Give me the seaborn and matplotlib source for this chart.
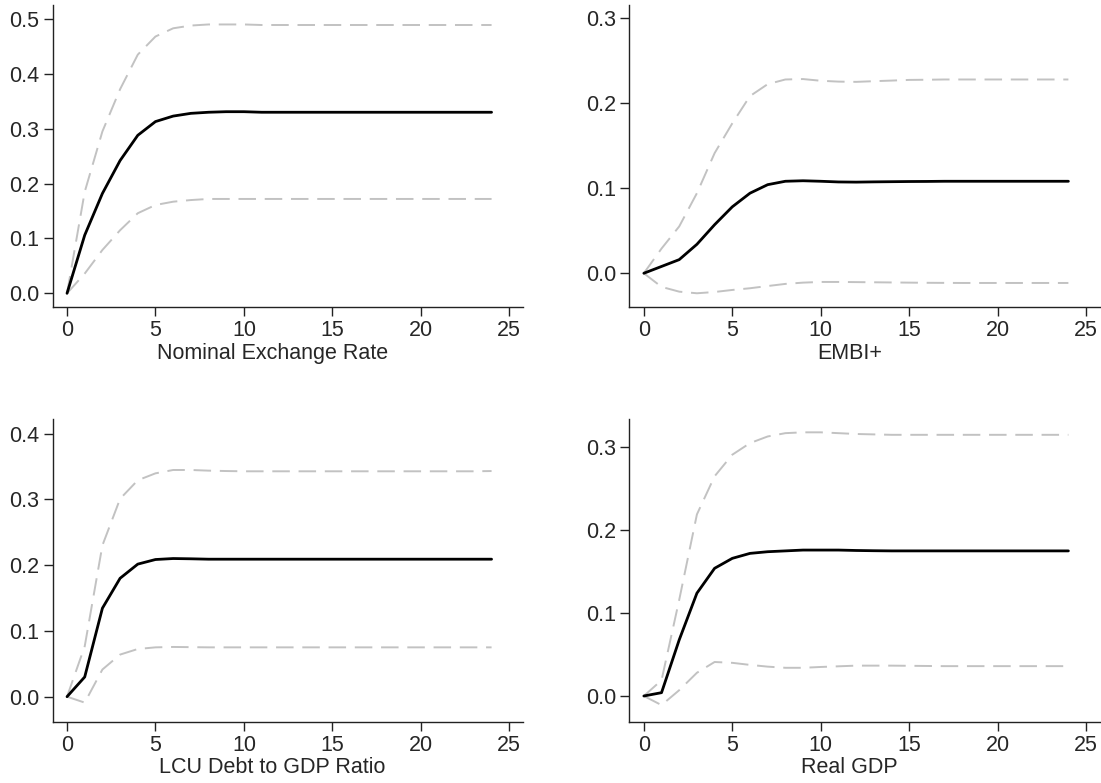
import numpy as np
import pandas as pd
import matplotlib
matplotlib.use("Agg")
import matplotlib.pyplot as plt
from matplotlib.ticker import FormatStrFormatter
import seaborn as sns

horizon = list(range(25))

titles = ['Nominal Exchange Rate', 'EMBI+', 'LCU Debt to GDP Ratio', 'Real GDP']

# impulse responses (point estimate and bands)
ner_irf = [0, 0.106, 0.182, 0.242, 0.288, 0.313, 0.323, 0.328, 0.330, 0.331, 0.331, 0.330, 0.330,
           0.330, 0.330, 0.330, 0.330, 0.330, 0.330, 0.330, 0.330, 0.330, 0.330, 0.330, 0.330]
ner_up = [0, 0.185, 0.295, 0.372, 0.435, 0.468, 0.483, 0.488, 0.490, 0.490, 0.490, 0.489, 0.489,
          0.489, 0.489, 0.489, 0.489, 0.489, 0.489, 0.489, 0.489, 0.489, 0.489, 0.489, 0.489]
ner_lo = [0, 0.036, 0.079, 0.115, 0.146, 0.161, 0.167, 0.170, 0.172, 0.172, 0.172, 0.172, 0.172,
          0.172, 0.172, 0.172, 0.172, 0.172, 0.172, 0.172, 0.172, 0.172, 0.172, 0.172, 0.172]

embi_irf = [0, 0.008, 0.016, 0.034, 0.057, 0.078, 0.094, 0.104, 0.108, 0.1086, 0.108, 0.1072, 0.107,
            0.1073, 0.1075, 0.1077, 0.1078, 0.108, 0.108, 0.108, 0.108, 0.108, 0.108, 0.108, 0.108]
embi_up = [0, 0.029, 0.055, 0.094, 0.141, 0.176, 0.208, 0.222, 0.2275, 0.228, 0.226, 0.225, 0.2247,
           0.2255, 0.2262, 0.227, 0.2272, 0.2275, 0.2275, 0.2275, 0.2275, 0.2275, 0.2275, 0.2275, 0.2275]
embi_lo = [0, -0.016, -0.0216, -0.0235, -0.022, -0.0196, -0.0176, -0.015, -0.0125, -0.011, -0.0102, -0.0102, -0.0104,
           -0.0106, -0.0108, -0.011, -0.0112, -0.0113, -0.0114, -0.0114, -0.0114, -0.0114, -0.0114, -0.0114, -0.0114]

lcu_irf = [0, 0.030, 0.1345, 0.180, 0.2015, 0.2085, 0.210, 0.2096, 0.209, 0.209, 0.209, 0.209, 0.209,
           0.209, 0.209, 0.209, 0.209, 0.209, 0.209, 0.209, 0.209, 0.209, 0.209, 0.209, 0.209]
lcu_up = [0, 0.0766, 0.230, 0.3008, 0.329, 0.3395, 0.3446, 0.3446, 0.3436, 0.343, 0.3426, 0.3426, 0.3426,
          0.3426, 0.3426, 0.3426, 0.3426, 0.3426, 0.3426, 0.3426, 0.3426, 0.3426, 0.3426, 0.3426, 0.343]
lcu_lo = [0, -0.009, 0.0413, 0.064, 0.0725, 0.075, 0.0756, 0.0753, 0.075, 0.075, 0.075, 0.075, 0.075,
          0.075, 0.075, 0.075, 0.075, 0.075, 0.075, 0.075, 0.075, 0.075, 0.075, 0.075, 0.075]

gdp_irf = [0, 0.004, 0.0677, 0.124, 0.154, 0.166, 0.172, 0.174, 0.175, 0.176, 0.176, 0.176, 0.1755,
           0.1752, 0.175, 0.175, 0.175, 0.175, 0.175, 0.175, 0.175, 0.175, 0.175, 0.175, 0.175]
gdp_up = [0, 0.019, 0.116, 0.219, 0.265, 0.291, 0.305, 0.313, 0.317, 0.318, 0.318, 0.317, 0.316,
          0.3155, 0.315, 0.315, 0.315, 0.315, 0.315, 0.315, 0.315, 0.315, 0.315, 0.315, 0.315]
gdp_lo = [0, -0.011, 0.007, 0.028, 0.041, 0.040, 0.0375, 0.0354, 0.034, 0.034, 0.035, 0.0358, 0.0366,
          0.0366, 0.0366, 0.0364, 0.0362, 0.036, 0.036, 0.036, 0.036, 0.036, 0.036, 0.036, 0.036]

panels = [
    (ner_irf, ner_up, ner_lo, (-0.0255, 0.526), [0, 0.1, 0.2, 0.3, 0.4, 0.5]),
    (embi_irf, embi_up, embi_lo, (-0.04, 0.3153), [0, 0.1, 0.2, 0.3]),
    (lcu_irf, lcu_up, lcu_lo, (-0.038, 0.422), [0, 0.1, 0.2, 0.3, 0.4]),
    (gdp_irf, gdp_up, gdp_lo, (-0.031, 0.334), [0, 0.1, 0.2, 0.3]),
]

sns.set_style("ticks")
plt.rcParams['font.family'] = ['Liberation Sans', 'DejaVu Sans']

fig = plt.figure(figsize=(11.01, 7.83), dpi=100)
boxes = [(0.0477, 0.6075), (0.5716, 0.6075), (0.0477, 0.0783), (0.5716, 0.0783)]

for (irf, up, lo, ylim, yt), title, (x0, y0) in zip(panels, titles, boxes):
    ax = fig.add_axes([x0, y0, 0.4277, 0.3865])
    df = pd.DataFrame({'h': horizon, 'irf': irf, 'up': up, 'lo': lo})
    sns.lineplot(data=df, x='h', y='up', ax=ax, color='#c2c2c2', lw=1.4, linestyle=(0, (9, 4.5)))
    sns.lineplot(data=df, x='h', y='lo', ax=ax, color='#c2c2c2', lw=1.4, linestyle=(0, (9, 4.5)))
    sns.lineplot(data=df, x='h', y='irf', ax=ax, color='black', lw=2)
    ax.set_xlim(-0.82, 25.8)
    ax.set_ylim(*ylim)
    ax.set_xticks([0, 5, 10, 15, 20, 25])
    ax.set_yticks(yt)
    ax.yaxis.set_major_formatter(FormatStrFormatter('%.1f'))
    ax.set_xlabel(title, fontsize=15.5)
    ax.xaxis.set_label_coords(0.467, -0.118)
    ax.set_ylabel('')
    ax.tick_params(labelsize=15.5, length=6.3, width=1, color='#222222', pad=3)
    sns.despine(ax=ax)
    for s in ['left', 'bottom']:
        ax.spines[s].set_color('#222222')
        ax.spines[s].set_linewidth(1)

fig.savefig('out.png', dpi=100)
